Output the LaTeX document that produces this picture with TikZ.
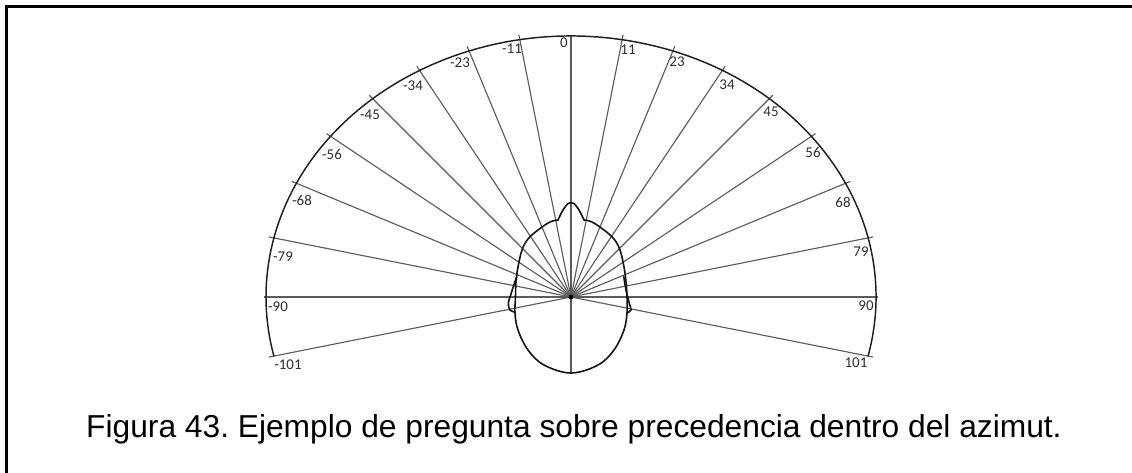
\documentclass[tikz,border=0pt]{standalone}
\usepackage{fontspec}
\setmainfont{Liberation Sans}
\newfontfamily\lblfont{Carlito}
\frenchspacing
\begin{document}
\begin{tikzpicture}[x=0.75pt,y=0.75pt,
  ray/.style={draw=black!64, line width=0.85pt},
  rim/.style={draw=black!88, line width=1.1pt},
  headline/.style={draw=black!92, line width=1.2pt, line join=round, line cap=round},
  deg/.style={font=\lblfont\fontsize{11.2}{12}\selectfont, text=black!82, inner sep=0pt},
  caption/.style={font=\fontsize{23.8}{28}\selectfont, anchor=base, inner sep=0pt},
]
% page and frame
\useasboundingbox (-571,-175) rectangle (561,297);
\draw[line width=1.9pt] (-564.3,290.6) rectangle (620,-220);

% listener position
\coordinate (c) at (0,0);

% radial directions (visual angle, clockwise from straight ahead)
\foreach \a [count=\i] in {-101.25,-78.75,-67.5,-56.25,-45,-33.75,-22.5,-11.25,
                          11.25,22.5,33.75,45,56.25,67.5,78.75,101.25}{
  \pgfmathsetmacro\r{100*3.05*2.61/sqrt((2.61*sin(\a))^2+(3.05*cos(\a))^2)}
  \coordinate (tip\i) at ({(\r+5)*sin(\a)},{(\r+5)*cos(\a)});
  \draw[ray] (c) -- (tip\i);
}
% lateral axis and median line
\coordinate (left) at (-307,0);
\coordinate (right) at (307,0);
\coordinate (front) at (0,261);
\coordinate (chin) at (0,-76);
\draw[ray] (left) -- (right);
\draw[ray] (front) -- (chin);

% elliptical rim
\draw[rim] ({305*cos(-13.1)},{261*sin(-13.1)})
  arc[start angle=-13.1, end angle=193.1, x radius=305, y radius=261];

% head seen from above
\draw[headline] plot[smooth, tension=0.6] coordinates {
  (-13,77) (-21,75) (-33,67) (-43,58) (-49,47) (-53,30) (-55,15) (-55.5,0)
  (-56,-16) (-53,-33) (-43,-53) (-27,-68) (0,-76) (27,-68) (43,-53) (53,-33)
  (56,-16) (56,0) (55,15) (53,30) (49,47) (43,58) (33,67) (21,75) (13,77)};
% nose
\draw[headline] plot[smooth, tension=0.6] coordinates {
  (-13,77) (-8,87) (-3,93.5) (0,94.3) (3,93.5) (8,87) (13,77)};
% ears
\draw[headline] plot[smooth, tension=0.6] coordinates {
  (-54.3,20.3) (-57.7,10.3) (-60.3,2) (-62.7,-6.3) (-61,-13) (-56.5,-15)};
\draw[headline] plot[smooth, tension=0.6] coordinates {
  (52.8,20.3) (55,7) (58.3,-6.3) (60,-13) (56.5,-15.7)};
\fill[black] (c) circle (2.4);

% degree labels
\foreach \t/\x/\y [count=\j] in {0/-7/254, -11/-59/248, -23/-111/234, -34/-158/211,
    -45/-201/182, -56/-239/142, -68/-269/97, -79/-288/40, -90/-293/-10, -101/-283/-68,
    11/57/247, 23/106/235, 34/156/212, 45/200/185, 56/242/144, 68/272/95,
    79/290/45, 90/295/-9, 101/285/-66}{
  \node[deg] (lab\j) at (\x,\y) {\t};
}

% caption
\node[caption] (cap) at (3,-140) {Figura 43. Ejemplo de pregunta sobre precedencia dentro del azimut.};
\end{tikzpicture}
\end{document}
